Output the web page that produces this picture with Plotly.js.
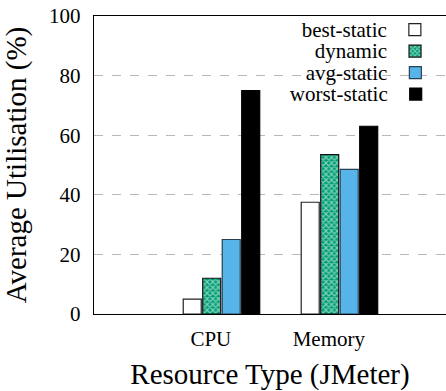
<!DOCTYPE html>
<html>
<head>
<meta charset="utf-8">
<script src="https://cdn.plot.ly/plotly-3.0.1.min.js"></script>
<style>html,body{margin:0;padding:0;background:#fff;}#chart{width:446px;height:391px;}</style>
</head>
<body>
<div id="chart"></div>
<script>
const categories = ["CPU", "Memory"];
const seriesNames = ["best-static", "dynamic", "avg-static", "worst-static"];
const bestStatic = [5, 37.5];
const dynamic = [12, 53.5];
const avgStatic = [25, 48.5];
const worstStatic = [75, 63];
const yTickVals = [0, 20, 40, 60, 80, 100];

const FONT = "Liberation Serif";
const xPos = categories.map((c, i) => i + 1);
const labelShift = -0.09;

const styles = [
  {color: "#ffffff", line: {color: "#222", width: 1.2}},
  {color: "#009e73", line: {color: "#111", width: 1.2},
   pattern: {shape: "x", fgcolor: "#ffffff", bgcolor: "#009e73", size: 4, solidity: 0.5, fillmode: "overlay"}},
  {color: "#56b4e9", line: {color: "#2b3f55", width: 1.2}},
  {color: "#000000", line: {color: "#000", width: 1.2}}
];
const values = [bestStatic, dynamic, avgStatic, worstStatic];
const legendIds = ["legend", "legend2", "legend3", "legend4"];

const traces = seriesNames.map((name, k) => ({
  type: "bar",
  name: "",
  legend: legendIds[k],
  x: xPos,
  y: values[k],
  marker: Object.assign({}, styles[k]),
  hoverinfo: "skip"
}));

const layout = {
  width: 446, height: 391,
  margin: {l: 94, r: 0, t: 16, b: 77},
  paper_bgcolor: "#fff", plot_bgcolor: "#fff",
  font: {family: FONT, color: "#000", size: 21},
  barmode: "group",
  bargap: 0.339,
  bargroupgap: 0.076,
  showlegend: true,
  xaxis: {
    range: [1 - 1.0805, 2.903],
    tickvals: xPos.map(v => v + labelShift),
    ticktext: categories,
    ticks: "",
    showgrid: false, zeroline: false,
    showline: true, linecolor: "#000", linewidth: 1.2, mirror: true,
    tickfont: {family: FONT, size: 21},
    ticklabelstandoff: 6,
    title: {text: "Resource Type (JMeter)", font: {family: FONT, size: 29}, standoff: 16}
  },
  yaxis: {
    range: [0, 100],
    tickvals: yTickVals,
    ticks: "",
    showgrid: true, gridcolor: "#b8b8b8", griddash: "dash", gridwidth: 1,
    zeroline: false,
    showline: true, linecolor: "#000", linewidth: 1.2,
    tickfont: {family: FONT, size: 21},
    ticklabelstandoff: 8,
    title: {text: "Average Utilisation (%)", font: {family: FONT, size: 29}, standoff: 14}
  },
  shapes: [{
    type: "rect", layer: "between", xref: "paper", yref: "y",
    x0: 0.338, x1: 0.96, y0: 78.5, y1: 81.5,
    fillcolor: "#fff", line: {width: 0}
  }]
};

const legendTop = 1.022;
const legendStep = 21.5 / 298;
legendIds.forEach((id, k) => {
  layout[id] = {
    x: 0.985, xanchor: "right",
    y: legendTop - k * legendStep, yanchor: "top",
    bgcolor: "rgba(0,0,0,0)", borderwidth: 0,
    font: {family: FONT, size: 21, color: "#000"},
    itemwidth: 30,
    title: {text: seriesNames[k], side: "left", font: {family: FONT, size: 21, color: "#000"}}
  };
});

Plotly.newPlot("chart", traces, layout, {staticPlot: true, displayModeBar: false});
</script>
</body>
</html>
